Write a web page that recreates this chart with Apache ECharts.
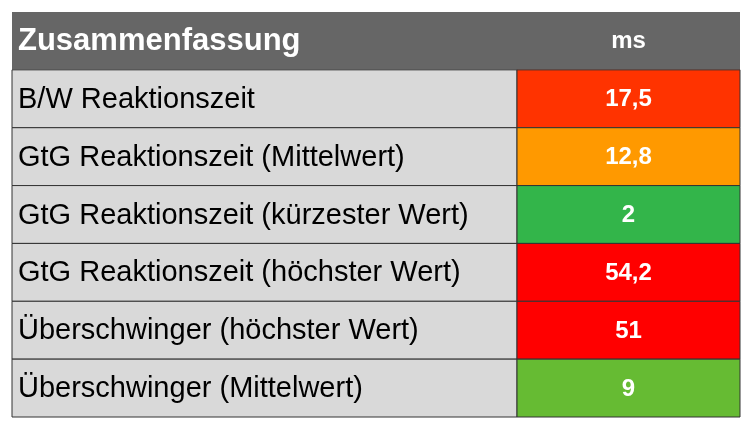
<!DOCTYPE html><html><head><meta charset="utf-8">
<script src="https://cdn.jsdelivr.net/npm/echarts@6/dist/echarts.min.js"></script>
<style>html,body{margin:0;background:#fff}#c{width:750px;height:428px}</style></head><body><div id="c"></div>
<script>
const headers=['Zusammenfassung','ms'];
const categories=['B/W Reaktionszeit','GtG Reaktionszeit (Mittelwert)','GtG Reaktionszeit (kürzester Wert)','GtG Reaktionszeit (höchster Wert)','Überschwinger (höchster Wert)','Überschwinger (Mittelwert)'];
const values=['17,5','12,8','2','54,2','51','9'];
const cellColors=['#ff3300','#ff9900','#33b54a','#ff0000','#ff0000','#66bb33'];
const rows=['h'].concat(categories.map((c,i)=>'r'+i));
const split=0.6937;
const font='Liberation Sans, Arial, sans-serif';
const data=rows.map((r,i)=>[i]);
const chart=echarts.init(document.getElementById('c'));
chart.setOption({
 animation:false,
 grid:{left:12,right:10,top:12,bottom:11},
 xAxis:{type:'value',min:0,max:1,show:false},
 yAxis:{type:'category',data:rows,inverse:true,show:false},
 series:[{type:'custom',data:data,renderItem:function(p,api){
  const i=api.value(0);
  const a=api.coord([0,i]),b=api.coord([split,i]),e=api.coord([1,i]);
  const h=api.size([0,1])[1];
  const y=a[1]-h/2;
  const ch=[];
  if(i===0){
   ch.push({type:'rect',shape:{x:a[0],y:y,width:e[0]-a[0],height:h},style:{fill:'#666666'}});
   ch.push({type:'text',style:{text:headers[0],x:a[0]+6,y:a[1]+1,verticalAlign:'middle',fill:'#fff',font:'bold 31px '+font}});
   ch.push({type:'text',style:{text:headers[1],x:(b[0]+e[0])/2,y:a[1],align:'center',verticalAlign:'middle',fill:'#fff',font:'bold 24px '+font}});
  } else {
   ch.push({type:'rect',shape:{x:a[0],y:y,width:b[0]-a[0],height:h},style:{fill:'#d9d9d9',stroke:'#333',lineWidth:1}});
   ch.push({type:'rect',shape:{x:b[0],y:y,width:e[0]-b[0],height:h},style:{fill:cellColors[i-1],stroke:'#333',lineWidth:1}});
   ch.push({type:'text',style:{text:categories[i-1],x:a[0]+6,y:a[1]+1,verticalAlign:'middle',fill:'#000',font:'29px '+font}});
   ch.push({type:'text',style:{text:values[i-1],x:(b[0]+e[0])/2,y:a[1]+1,align:'center',verticalAlign:'middle',fill:'#fff',font:'bold 24px '+font}});
  }
  return {type:'group',children:ch};
 }}]
});
</script></body></html>
